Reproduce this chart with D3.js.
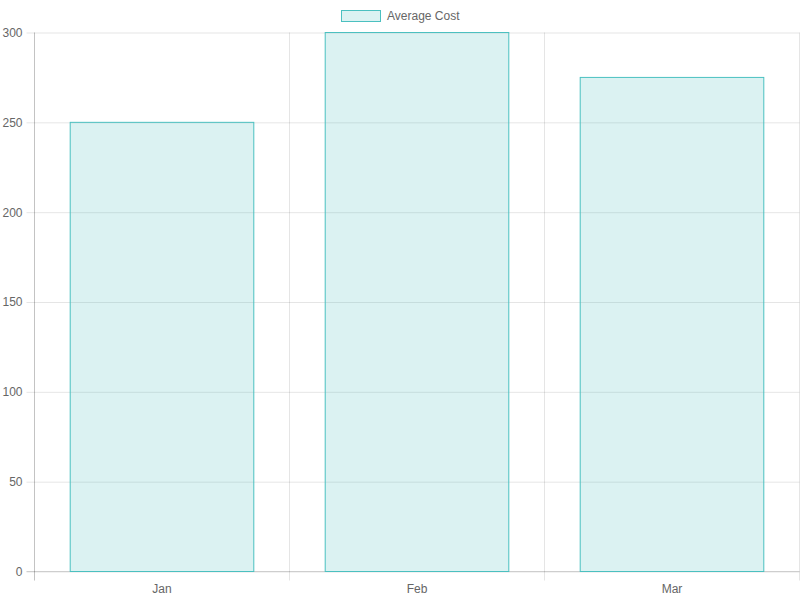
<!DOCTYPE html>
<html>
<head>
<meta charset="utf-8">
<script src="https://cdn.jsdelivr.net/npm/d3@7"></script>
<style>
  body { margin: 0; background: #fff; }
  svg { display: block; font-family: "Liberation Sans", Arial, sans-serif; }
</style>
</head>
<body>
<svg></svg>
<script>
const months = ['Jan', 'Feb', 'Mar']
const avgCost = [250, 300, 275]
const yTicks = [0, 50, 100, 150, 200, 250, 300]
const seriesName = 'Average Cost'

const w = 800
const h = 600
const plotLeft = 34.5
const plotRight = 799.5
const plotTop = 32.5
const plotBottom = 571.5

const fill = 'rgba(75, 192, 192, 0.2)'
const stroke = 'rgb(75, 192, 192)'
const gridColor = 'rgba(0, 0, 0, 0.1)'
const textColor = '#666'

let svg = d3.select('svg')
    .attr('width', w)
    .attr('height', h)

let xScale = d3.scaleBand()
    .domain(months)
    .range([plotLeft, plotRight])

let yScale = d3.scaleLinear()
    .domain([0, 300])
    .range([plotBottom, plotTop])

// horizontal grid lines (with little tick stubs on the left)
let gy = svg.append('g')
    .attr('transform', 'translate(' + plotRight + ', 0)')
    .call(d3.axisLeft(yScale).tickValues(yTicks).tickSize(plotRight - plotLeft + 8).tickFormat(''))
gy.select('.domain').remove()
gy.selectAll('line').attr('stroke', gridColor)

// y labels
let gyl = svg.append('g')
    .attr('transform', 'translate(' + plotLeft + ', 0)')
    .call(d3.axisLeft(yScale).tickValues(yTicks).tickSize(0).tickPadding(12))
gyl.select('.domain').remove()
gyl.selectAll('text')
    .attr('fill', textColor)
    .style('font-size', '12px')
    .style('font-family', '"Liberation Sans", Arial, sans-serif')

// vertical grid lines at category boundaries
let bounds = months.map(m => xScale(m)).concat([plotRight])
svg.append('g')
    .selectAll('line')
    .data(bounds)
    .enter()
    .append('line')
    .attr('x1', d => d)
    .attr('x2', d => d)
    .attr('y1', plotTop)
    .attr('y2', plotBottom + 9)
    .attr('stroke', gridColor)

// x labels
let gx = svg.append('g')
    .attr('transform', 'translate(0, ' + plotBottom + ')')
    .call(d3.axisBottom(xScale).tickSize(0).tickPadding(13))
gx.select('.domain').remove()
gx.selectAll('text')
    .attr('fill', textColor)
    .style('font-size', '12px')
    .style('font-family', '"Liberation Sans", Arial, sans-serif')

// axis lines
svg.append('line')
    .attr('x1', plotLeft).attr('x2', plotLeft)
    .attr('y1', plotTop).attr('y2', plotBottom + 9)
    .attr('stroke', 'rgba(0,0,0,0.15)')
svg.append('line')
    .attr('x1', plotLeft - 8).attr('x2', plotRight)
    .attr('y1', plotBottom).attr('y2', plotBottom)
    .attr('stroke', 'rgba(0,0,0,0.15)')

// bars
let bw = xScale.bandwidth() * 0.72
svg.append('g')
    .selectAll('rect')
    .data(avgCost)
    .enter()
    .append('rect')
    .attr('x', (d, i) => xScale(months[i]) + (xScale.bandwidth() - bw) / 2)
    .attr('y', d => yScale(d))
    .attr('width', bw)
    .attr('height', d => plotBottom - yScale(d))
    .attr('fill', fill)
    .attr('stroke', stroke)
    .attr('stroke-width', 1)

// legend
let legend = svg.append('g')
legend.append('rect')
    .attr('x', 341.5)
    .attr('y', 10.5)
    .attr('width', 39)
    .attr('height', 11)
    .attr('fill', fill)
    .attr('stroke', stroke)
legend.append('text')
    .attr('x', 387)
    .attr('y', 20)
    .attr('fill', textColor)
    .style('font-size', '12px')
    .text(seriesName)
</script>
</body>
</html>
